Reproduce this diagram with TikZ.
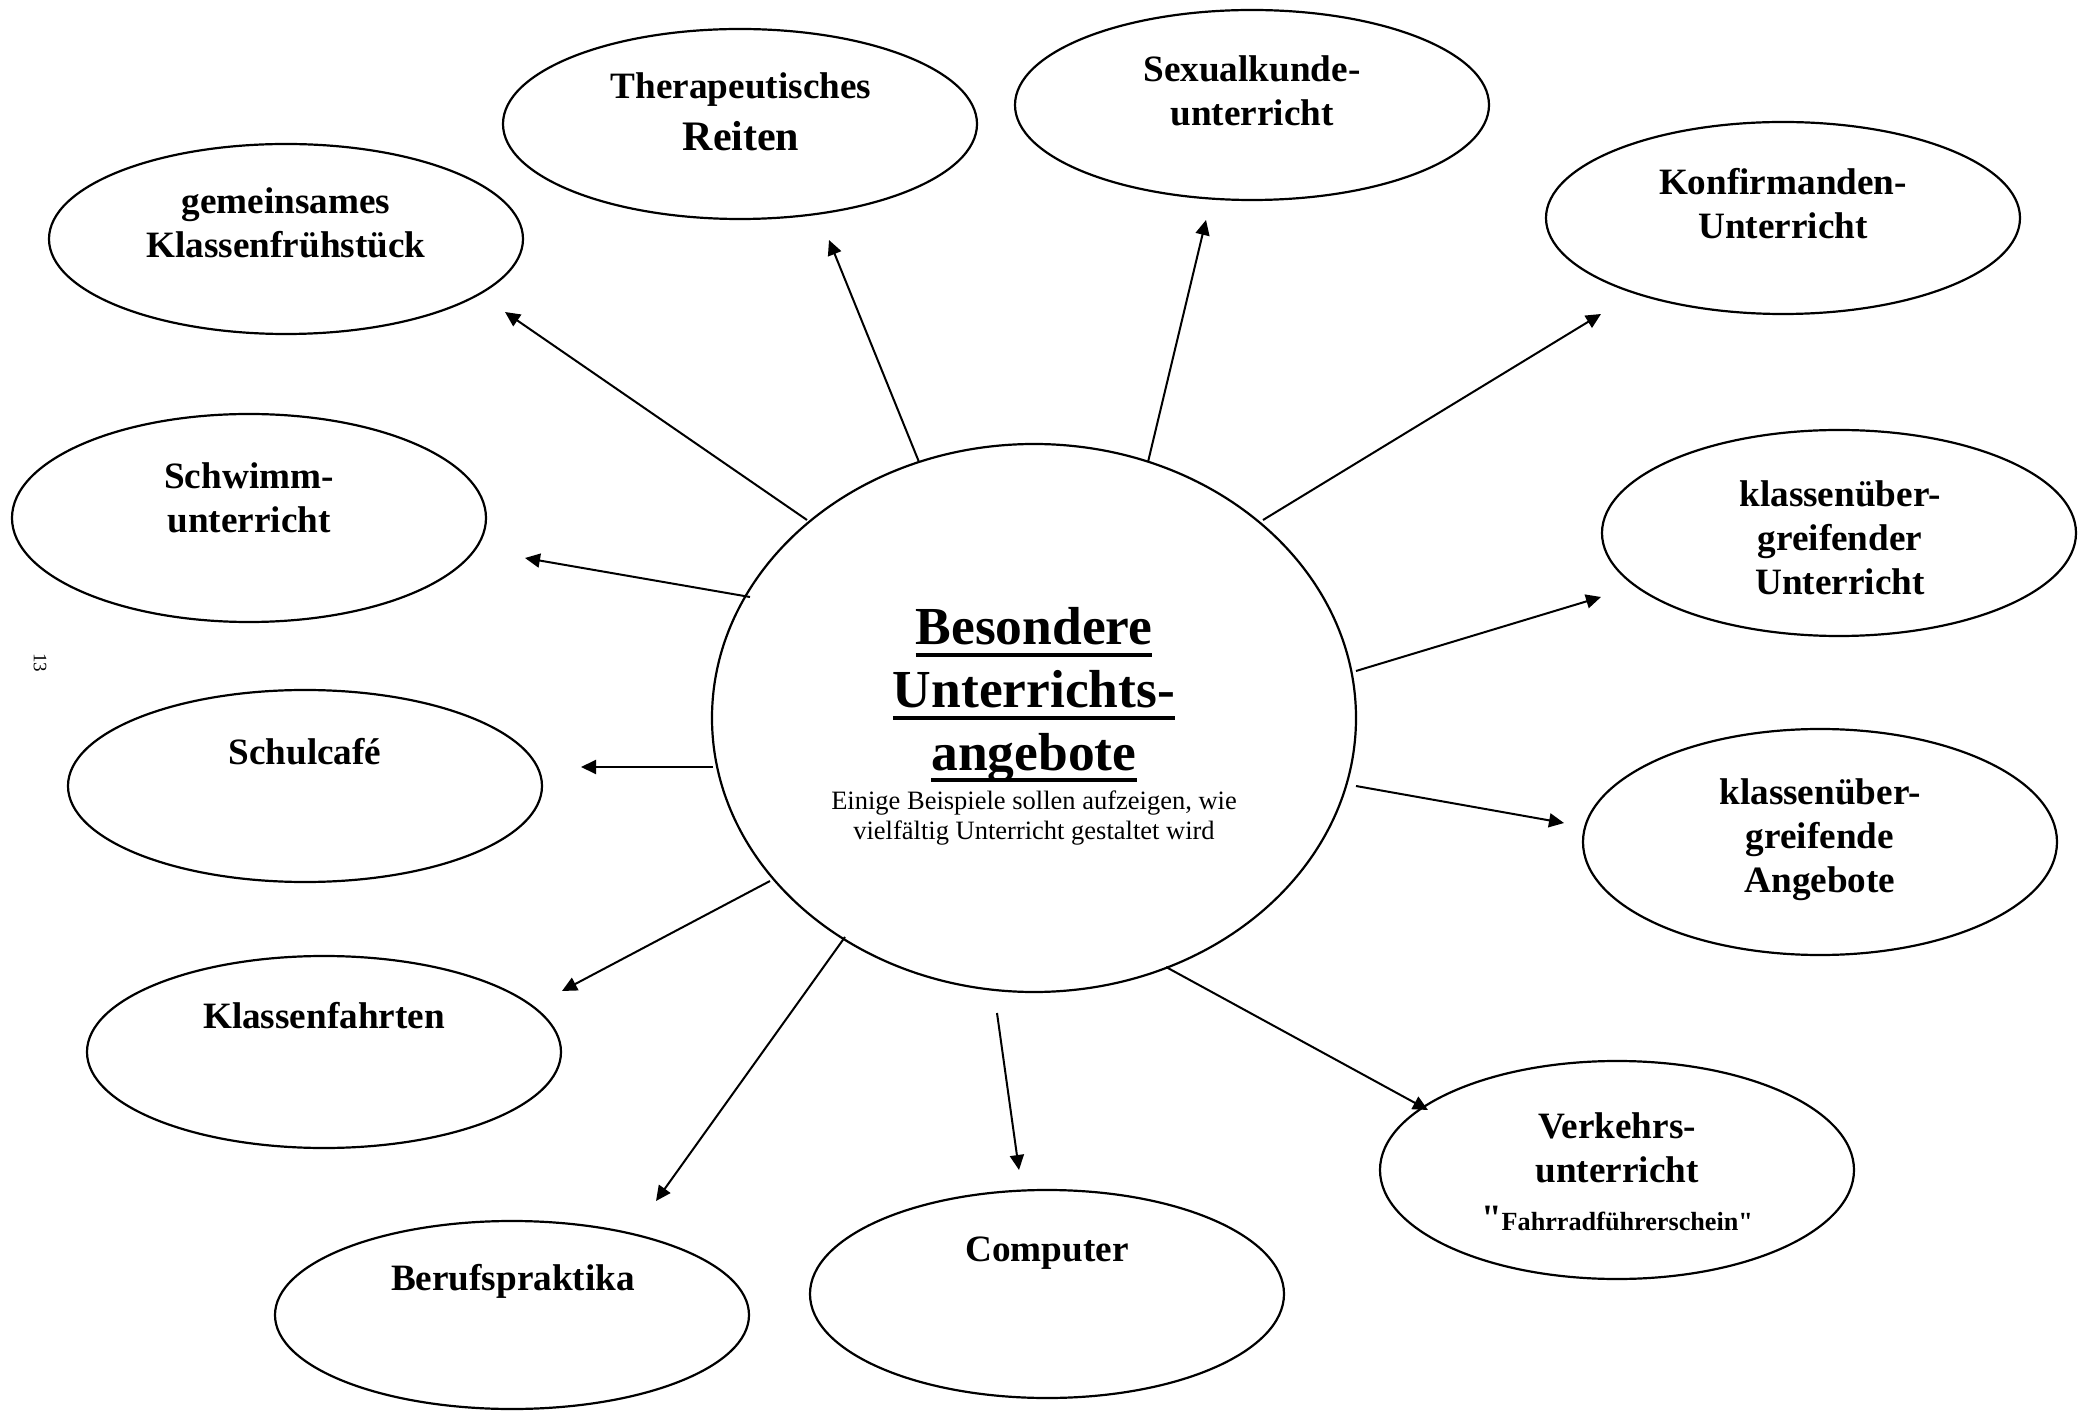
\documentclass[tikz,border=0pt]{standalone}
\usepackage{fontspec}
\setmainfont{Liberation Serif}[Ligatures=TeXOff]
\newcommand\myul[1]{\setbox0\hbox{#1}\rlap{\rule[-6pt]{\wd0}{2pt}}\box0}
\usetikzlibrary{arrows.meta,shapes.geometric}
\begin{document}
\begin{tikzpicture}[x=0.5pt,y=-0.5pt,
  bubble/.style={draw, ellipse, line width=1.1pt, inner sep=0pt, minimum width=237pt},
  lbl/.style={align=center, inner sep=0pt, font=\bfseries\fontsize{18.6}{22}\selectfont},
  conn/.style={-{Triangle[length=7.5pt,width=7pt]}, line width=1pt}]
\useasboundingbox (0,0) rectangle (2089,1411);
% central circle
\node[bubble, minimum width=322pt, minimum height=274pt] (hub) at (1034,718) {};
\node[align=center, inner sep=0pt, font=\bfseries\fontsize{26.75}{31.3}\selectfont] (title) at (1034,695)
  {\myul{Besondere}\\\myul{Unterrichts-}\\\myul{angebote}};
\node[align=center, inner sep=0pt, font=\fontsize{13.25}{15.3}\selectfont] (sub) at (1034,818)
  {Einige Beispiele sollen aufzeigen, wie\\vielfältig Unterricht gestaltet wird};
% outer ellipses
\node[bubble, minimum height=95pt] (gem) at (286,239) {};
\node[lbl] (gemT) at (286,223) {gemeinsames\\Klassenfrühstück};
\node[bubble, minimum height=95pt] (ther) at (740,124) {};
\node[lbl] (therT1) at (741,90) {Therapeutisches};
\node[lbl, font=\bfseries\fontsize{21}{25}\selectfont] (therT2) at (741,136) {Reiten};
\node[bubble, minimum height=95pt] (sex) at (1252,105) {};
\node[lbl] (sexT) at (1252,91) {Sexualkunde-\\unterricht};
\node[bubble, minimum height=96pt] (konf) at (1783,218) {};
\node[lbl] (konfT) at (1783,204) {Konfirmanden-\\Unterricht};
\node[bubble, minimum height=103pt] (ku) at (1839,533) {};
\node[lbl] (kuT) at (1840,538) {klassenüber-\\greifender\\Unterricht};
\node[bubble, minimum height=113pt] (ka) at (1820,842) {};
\node[lbl] (kaT) at (1820,840) {klassenüber-\\greifende\\Angebote};
\node[bubble, minimum height=109pt] (verk) at (1617,1170) {};
\node[lbl] (verkT) at (1617,1148) {Verkehrs-\\unterricht};
\node[lbl, font=\bfseries\fontsize{13.1}{15}\selectfont] (verkT2) at (1617,1218)
  {{\fontsize{18.6}{22}\selectfont"}Fahrradführerschein"};
\node[bubble, minimum height=104pt] (comp) at (1047,1294) {};
\node[lbl] (compT) at (1047,1253) {Computer};
\node[bubble, minimum height=94pt] (beruf) at (512,1315) {};
\node[lbl] (berufT) at (513,1281) {Berufspraktika};
\node[bubble, minimum height=96pt] (kfahrt) at (324,1052) {};
\node[lbl] (kfahrtT) at (324,1016) {Klassenfahrten};
\node[bubble, minimum height=96pt] (cafe) at (305,786) {};
\node[lbl] (cafeT) at (305,752) {Schulcafé};
\node[bubble, minimum height=104pt] (schwimm) at (249,518) {};
\node[lbl] (schwimmT) at (249,498) {Schwimm-\\unterricht};
% page number
\node[rotate=-90, inner sep=0pt, font=\fontsize{9.5}{11}\selectfont] (pnum) at (40,663) {13};
% connector end points
\coordinate (gemS) at (807,520);   \coordinate (gemE) at (505,312);
\coordinate (therS) at (919,462);  \coordinate (therE) at (829,240);
\coordinate (sexS) at (1148,462);  \coordinate (sexE) at (1206,220);
\coordinate (konfS) at (1263,520); \coordinate (konfE) at (1601,314);
\coordinate (kuS) at (1356,671);   \coordinate (kuE) at (1601,597);
\coordinate (kaS) at (1356,786);   \coordinate (kaE) at (1564,823);
\coordinate (verkS) at (1166,967); \coordinate (verkE) at (1428,1110);
\coordinate (compS) at (997,1013); \coordinate (compE) at (1019,1170);
\coordinate (berufS) at (845,937); \coordinate (berufE) at (656,1201);
\coordinate (kfS) at (770,881);    \coordinate (kfE) at (562,991);
\coordinate (cafeS) at (713,767);  \coordinate (cafeE) at (581,767);
\coordinate (swS) at (750,597);    \coordinate (swE) at (525,558);
\foreach \a in {gem,ther,sex,konf,ku,ka,verk,comp,beruf,kf,cafe,sw}
  \draw[conn] (\a S) -- (\a E);
\end{tikzpicture}
\end{document}
